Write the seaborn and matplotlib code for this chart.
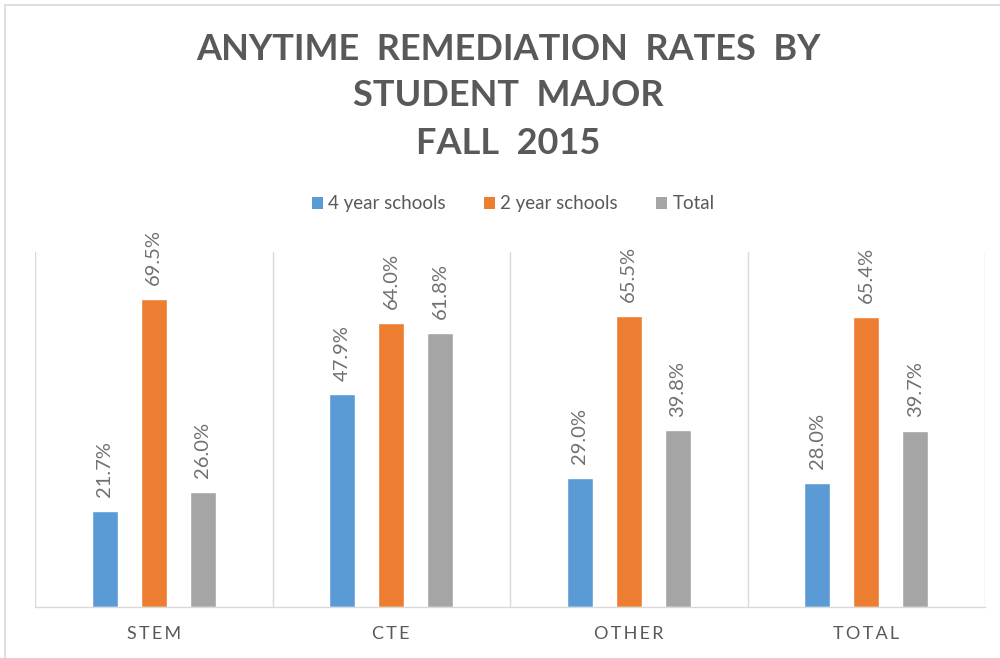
import matplotlib
matplotlib.use("Agg")
import matplotlib.pyplot as plt
import seaborn as sns
import pandas as pd
from matplotlib.patches import Rectangle, Patch
from matplotlib.ticker import FixedLocator

categories = ["STEM", "CTE", "OTHER", "TOTAL"]
series_names = ["4 year schools", "2 year schools", "Total"]
four_year = [21.7, 47.9, 29.0, 28.0]
two_year = [69.5, 64.0, 65.5, 65.4]
total = [26.0, 61.8, 39.8, 39.7]
colors = ["#5B9BD5", "#ED7D31", "#A5A5A5"]
title_lines = ["ANYTIME  REMEDIATION  RATES  BY", "STUDENT  MAJOR", "FALL  2015"]

rows = []
for name, vals in zip(series_names, [four_year, two_year, total]):
    for c, v in zip(categories, vals):
        rows.append({"Major": c, "Series": name, "Rate": v})
df = pd.DataFrame(rows)

sns.set_theme(style="white")
plt.rcParams["font.family"] = ["Lato", "DejaVu Sans"]
txt = "#595959"

fig = plt.figure(figsize=(10, 6.58), dpi=100)
ax = fig.add_axes([0.035, 0.0775, 0.95, 0.5395])

sns.barplot(data=df, x="Major", y="Rate", hue="Series", order=categories,
            hue_order=series_names, palette=colors, width=0.618, gap=0.466,
            ax=ax, legend=False, saturation=1)

for cont in ax.containers:
    ax.bar_label(cont, labels=[f"{v:.1f}%" for v in cont.datavalues],
                 rotation=90, padding=10, fontsize=14.5, color="#707070")

ax.set_ylim(0, 80)
ax.set_xlim(-0.5, len(categories) - 0.5)
ax.set_yticks([])
ax.set_xlabel("")
ax.set_ylabel("")
ax.set_xticks(range(len(categories)))
ax.set_xticklabels(["\u2009".join(c) for c in categories], fontsize=13, color=txt)
ax.tick_params(axis="x", length=0, pad=14)
ax.xaxis.set_minor_locator(FixedLocator([i - 0.5 for i in range(len(categories) + 1)]))
ax.grid(which="minor", axis="x", color="#D9D9D9", linewidth=1)
ax.grid(which="major", axis="x", visible=False)
for s in ["top", "right", "left"]:
    ax.spines[s].set_visible(False)
ax.spines["bottom"].set_color("#D9D9D9")
ax.spines["bottom"].set_linewidth(1)

ys = [0.925, 0.855, 0.782]
for line, y in zip(title_lines, ys):
    fig.text(0.508, y, line, ha="center", va="center", fontsize=26,
             fontweight="bold", color=txt)

handles = [Patch(facecolor=c, edgecolor="none") for c in colors]
fig.legend(handles, series_names, loc="center", bbox_to_anchor=(0.513, 0.69),
           ncol=3, frameon=False, fontsize=13.5, labelcolor=txt,
           handlelength=0.6, handleheight=0.6, handletextpad=0.3, columnspacing=2.0)

fig.patches.append(Rectangle((0.005, -0.1), 1.2, 1.093, transform=fig.transFigure,
                             fill=False, edgecolor="#D9D9D9", linewidth=1.2))

fig.savefig("out.png", dpi=100, facecolor="white")
